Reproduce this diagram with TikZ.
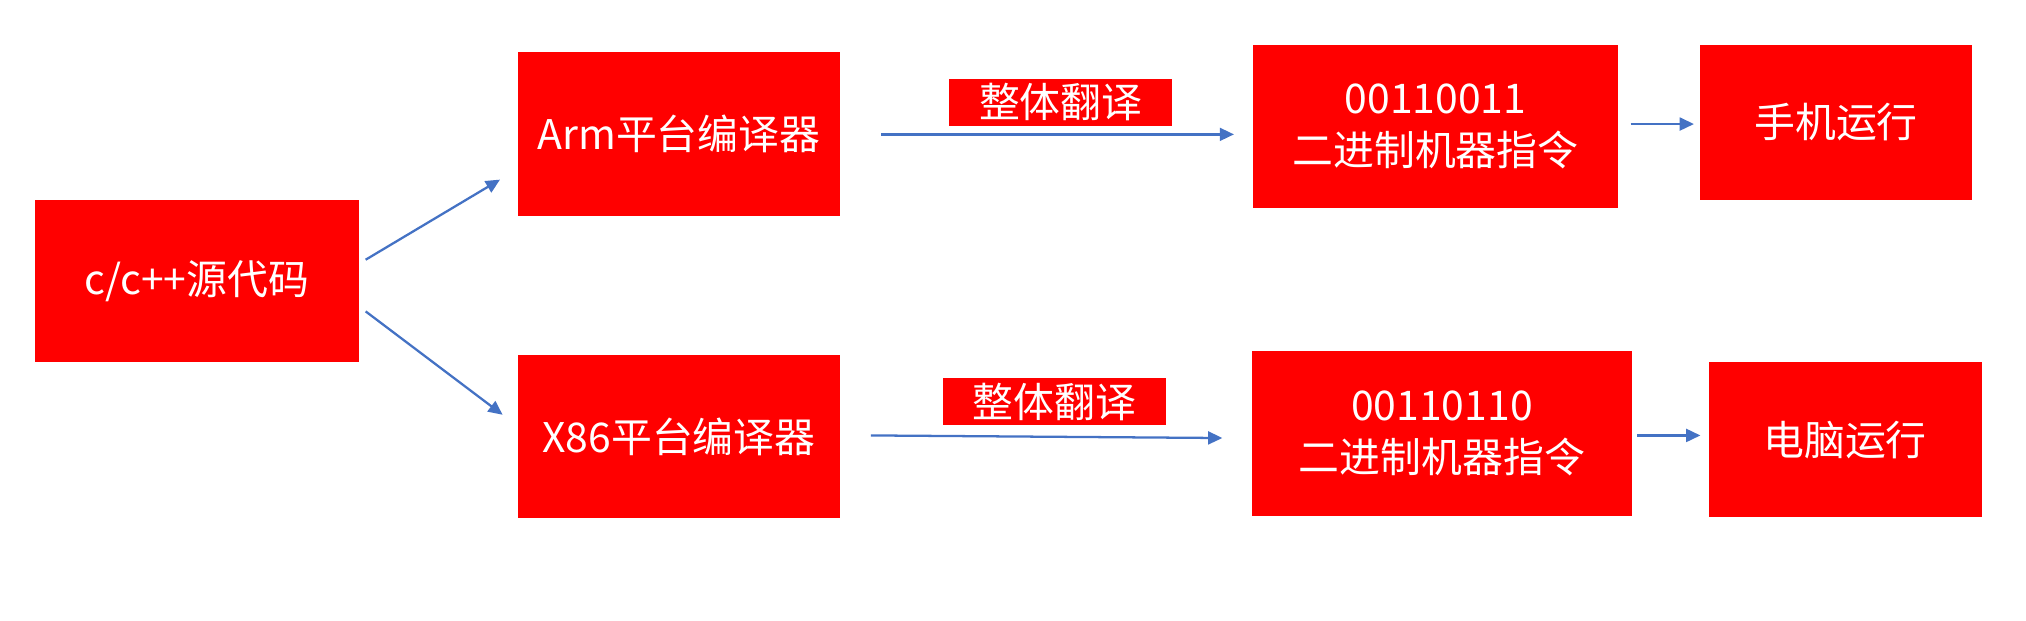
\documentclass[tikz,border=0pt]{standalone}
\usepackage{fontspec}
\setmainfont{Noto Sans CJK SC}
\usetikzlibrary{arrows.meta}
\definecolor{boxred}{RGB}{255,0,0}
\definecolor{arrowblue}{RGB}{68,114,196}
\tikzset{
  redbox/.style={fill=boxred, draw=none, text=white, inner sep=0pt, align=center,
    font=\fontsize{18}{23}\selectfont},
  tagbox/.style={fill=boxred, draw=none, text=white, inner sep=0pt,
    font=\fontsize{18}{23}\selectfont},
  flow/.style={draw=arrowblue, line width=1pt, -{Triangle[length=0.22cm,width=0.2cm]}}
}
\begin{document}
\begin{tikzpicture}[x=0.02cm,y=-0.02cm]
\useasboundingbox (0,0) rectangle (1568,480);
\node[redbox, minimum width=5.02cm, minimum height=2.52cm] (src) at (152.5,217.5) {c/c++源代码};
\node[redbox, minimum width=4.97cm, minimum height=2.54cm] (arm) at (525.5,103.5) {Arm平台编译器};
\node[redbox, minimum width=4.97cm, minimum height=2.52cm] (x86) at (525.5,338) {X86平台编译器};
\node[tagbox, minimum width=3.45cm, minimum height=0.73cm] (tag1) at (821,79) {整体翻译};
\node[tagbox, minimum width=3.45cm, minimum height=0.73cm] (tag2) at (816,311) {整体翻译};
\node[redbox, minimum width=5.64cm, minimum height=2.53cm] (bin1) at (1111,98) {00110011\\二进制机器指令};
\node[redbox, minimum width=5.87cm, minimum height=2.54cm] (bin2) at (1116,335.5) {00110110\\二进制机器指令};
\node[redbox, minimum width=4.21cm, minimum height=2.4cm] (phone) at (1421,94.5) {手机运行};
\node[redbox, minimum width=4.23cm, minimum height=2.4cm] (pc) at (1428,340.5) {电脑运行};
\coordinate (s1) at (283,201);
\coordinate (e1) at (387,139);
\coordinate (s2) at (283,241);
\coordinate (e2) at (389,321);
\coordinate (s3) at (682,104);
\coordinate (e3) at (955,104);
\coordinate (s4) at (674,337);
\coordinate (e4) at (946,339);
\coordinate (s5) at (1262,96);
\coordinate (e5) at (1311,96);
\coordinate (s6) at (1267,337);
\coordinate (e6) at (1316,337);
\draw[flow] (s1) -- (e1);
\draw[flow] (s2) -- (e2);
\draw[flow] (s3) -- (e3);
\draw[flow] (s4) -- (e4);
\draw[flow] (s5) -- (e5);
\draw[flow] (s6) -- (e6);
\end{tikzpicture}
\end{document}
